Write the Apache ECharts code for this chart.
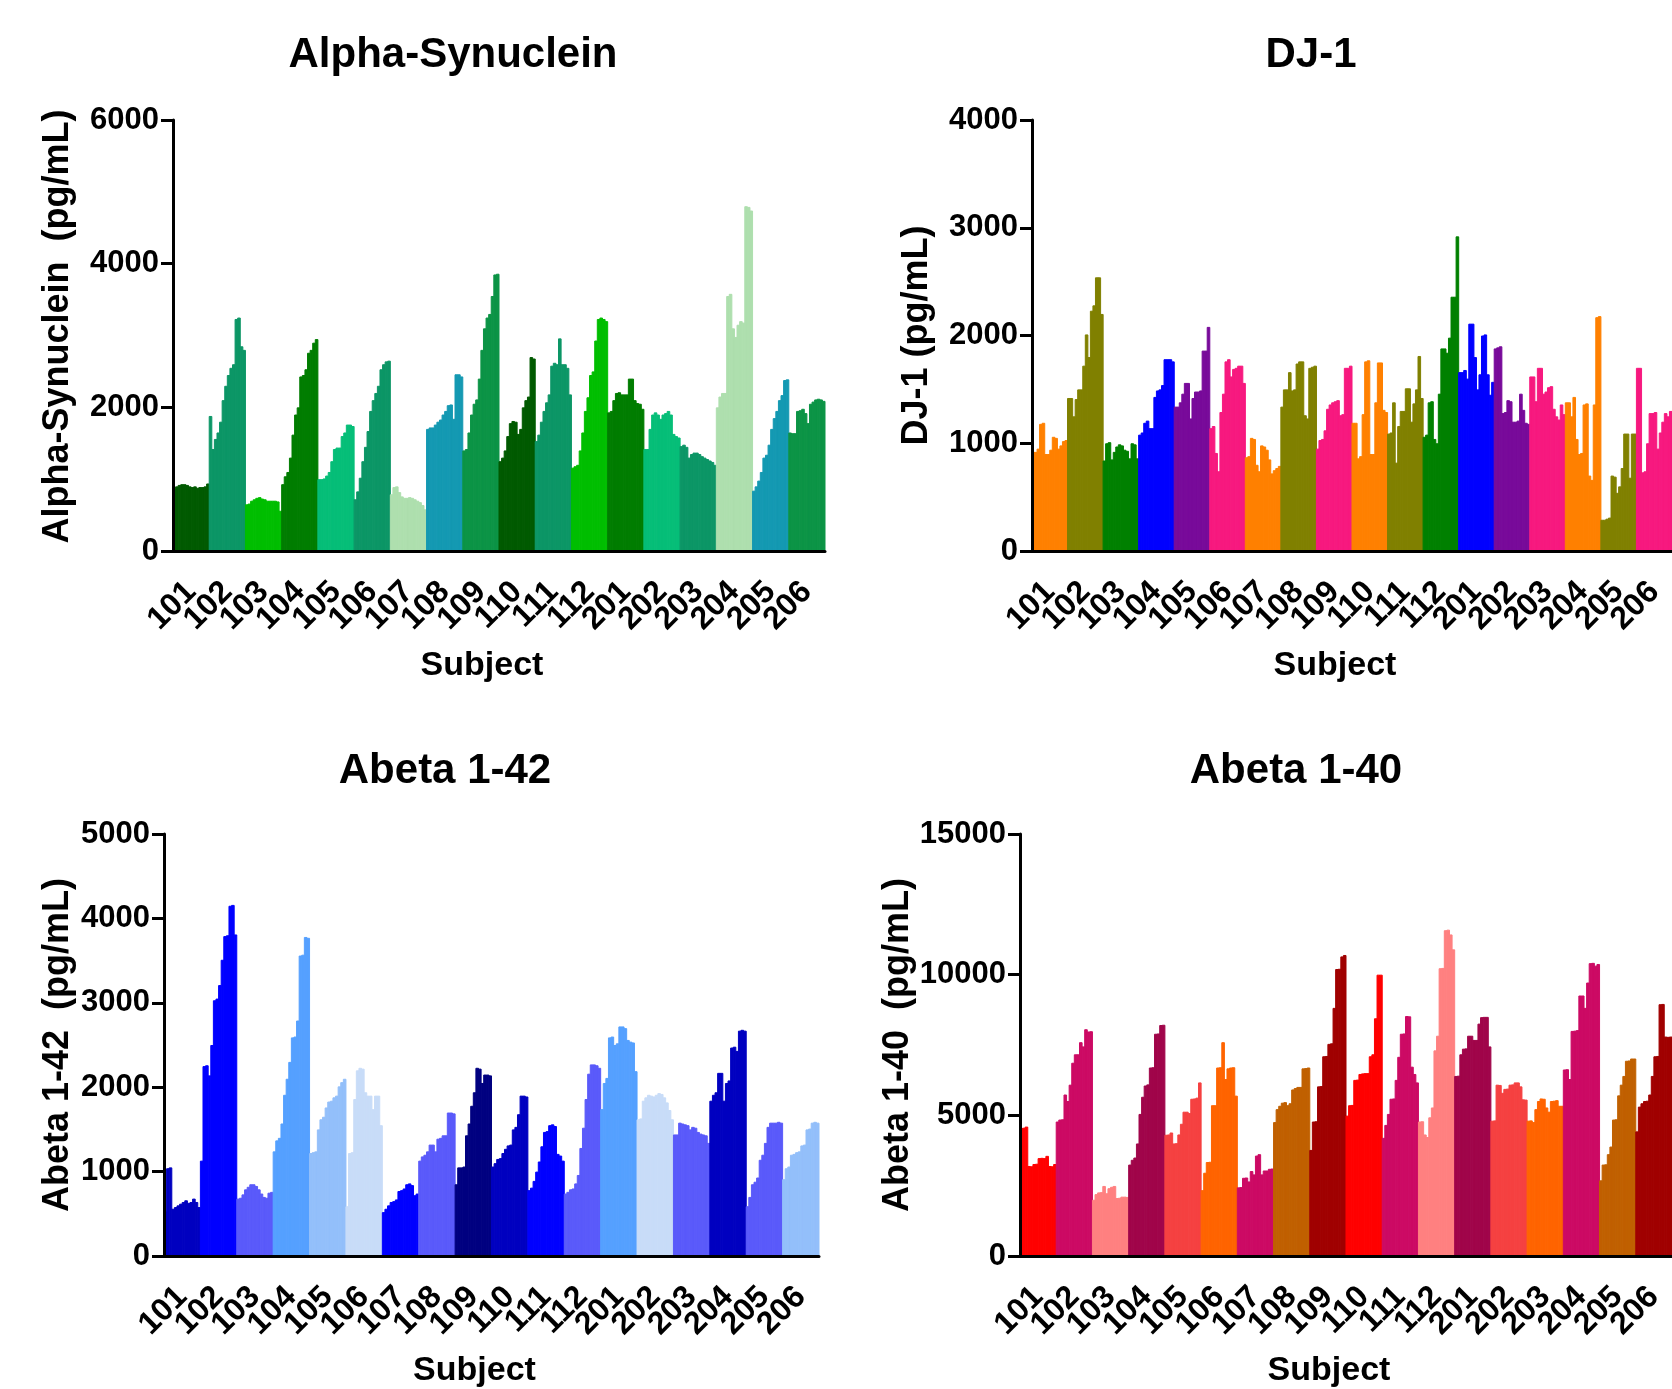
<!DOCTYPE html>
<html>
<head>
<meta charset="utf-8">
<script src="https://cdn.jsdelivr.net/npm/echarts@6/dist/echarts.min.js"></script>
<style>
  html, body { margin: 0; padding: 0; background: #fff; }
  #chart { width: 1672px; height: 1389px; }
</style>
</head>
<body>
<div id="chart"></div>
<script>
// subjects on the x axis, 14 readings per subject
const subjects = ['101', '102', '103', '104', '105', '106', '107', '108', '109', '110', '111', '112', '201', '202', '203', '204', '205', '206']

const alphaSynValues = [
  [870, 900, 920, 930, 930, 920, 900, 890, 900, 880, 890, 890, 900, 940],
  [1880, 1420, 1560, 1650, 1800, 2100, 2300, 2450, 2550, 2600, 3230, 3250, 2850, 2800],
  [650, 660, 700, 720, 740, 750, 730, 720, 700, 700, 700, 700, 690, 560],
  [930, 1040, 1100, 1300, 1620, 1900, 2000, 2430, 2450, 2530, 2760, 2800, 2900, 2950],
  [1000, 1000, 1010, 1050, 1100, 1250, 1420, 1440, 1440, 1600, 1650, 1760, 1760, 1740],
  [720, 830, 1020, 1250, 1450, 1670, 1950, 2100, 2200, 2300, 2530, 2600, 2640, 2650],
  [790, 890, 900, 820, 760, 740, 740, 750, 740, 720, 700, 680, 640, 580],
  [1700, 1720, 1720, 1760, 1800, 1830, 1900, 1950, 2030, 2040, 1840, 2460, 2460, 2430],
  [1400, 1420, 1650, 1900, 2050, 2110, 2400, 2800, 3100, 3250, 3300, 3550, 3850, 3860],
  [1250, 1300, 1400, 1600, 1780, 1810, 1800, 1630, 1700, 2000, 2100, 2150, 2700, 2680],
  [1530, 1620, 1800, 1950, 2070, 2180, 2580, 2620, 2600, 2960, 2600, 2600, 2550, 2180],
  [1160, 1180, 1200, 1400, 1650, 1950, 2140, 2450, 2500, 2930, 3230, 3250, 3230, 3200],
  [1930, 1950, 2100, 2200, 2210, 2180, 2180, 2180, 2400, 2400, 2100, 2060, 2050, 1980],
  [1420, 1420, 1700, 1900, 1930, 1900, 1840, 1900, 1920, 1950, 1900, 1630, 1600, 1580],
  [1460, 1480, 1450, 1300, 1350, 1370, 1370, 1350, 1320, 1300, 1280, 1260, 1240, 1200],
  [2000, 2150, 2200, 2200, 3550, 3580, 3100, 2980, 3150, 3200, 3180, 4800, 4790, 4740],
  [840, 900, 980, 1100, 1300, 1340, 1480, 1700, 1850, 1950, 2100, 2170, 2380, 2390],
  [1650, 1640, 1640, 1950, 1960, 1980, 1920, 1780, 2050, 2080, 2110, 2120, 2110, 2090]
]

const dj1Values = [
  [920, 920, 950, 1180, 1190, 900, 900, 940, 1060, 1050, 950, 980, 1020, 1030],
  [1420, 1420, 1250, 1410, 1500, 1500, 1720, 2010, 1800, 2230, 2280, 2540, 2540, 2200],
  [840, 1000, 1010, 850, 920, 970, 990, 980, 940, 930, 860, 1000, 990, 860],
  [1080, 1100, 1190, 1210, 1140, 1140, 1430, 1490, 1500, 1540, 1780, 1780, 1780, 1760],
  [1340, 1340, 1380, 1460, 1560, 1560, 1230, 1420, 1480, 1480, 1490, 1860, 1860, 2080],
  [1140, 1160, 910, 740, 1290, 1460, 1760, 1780, 1620, 1690, 1700, 1720, 1720, 1560],
  [870, 880, 1050, 1040, 800, 740, 980, 970, 940, 850, 720, 750, 770, 790],
  [1340, 1500, 1500, 1660, 1490, 1500, 1740, 1760, 1760, 1260, 1230, 1700, 1710, 1720],
  [950, 1030, 1040, 1120, 1320, 1360, 1380, 1390, 1400, 1260, 1270, 1700, 1700, 1720],
  [1190, 1190, 860, 880, 1270, 1760, 1770, 900, 900, 1380, 1750, 1750, 1310, 1290],
  [1090, 1100, 1380, 820, 1160, 1300, 1300, 1510, 1510, 1200, 1370, 1500, 1810, 1420],
  [1060, 1080, 1380, 1390, 1040, 1000, 1460, 1880, 1880, 1840, 1980, 2360, 2360, 2920],
  [1660, 1660, 1680, 1600, 2110, 2110, 1800, 1500, 1640, 2000, 2010, 1640, 1450, 1570],
  [1880, 1890, 1900, 1280, 1290, 1400, 1390, 1200, 1200, 1210, 1460, 1310, 1190, 1180],
  [1620, 1620, 1390, 1700, 1700, 1460, 1480, 1520, 1530, 1320, 1250, 1220, 1360, 1270],
  [1380, 1380, 1250, 1430, 1040, 900, 910, 1360, 1370, 700, 660, 1360, 2170, 2180],
  [290, 290, 300, 310, 700, 690, 540, 600, 770, 1090, 1090, 680, 1090, 1090],
  [1700, 1700, 730, 740, 1000, 1280, 1280, 1290, 950, 1100, 1200, 1280, 1250, 1300]
]

const abeta42Values = [
  [530, 1040, 1050, 560, 580, 600, 620, 640, 660, 630, 640, 680, 640, 580],
  [1130, 2250, 2260, 2140, 2500, 3030, 3050, 3210, 3510, 3790, 3800, 4150, 4160, 3810],
  [680, 690, 730, 790, 820, 850, 850, 830, 790, 740, 700, 690, 750, 760],
  [1240, 1370, 1400, 1570, 1910, 2100, 2300, 2590, 2600, 2790, 3560, 3570, 3780, 3770],
  [1220, 1230, 1240, 1500, 1620, 1650, 1760, 1830, 1840, 1880, 1900, 2010, 2060, 2100],
  [590, 1220, 1230, 1860, 2200, 2230, 2220, 1940, 1900, 1900, 1740, 1900, 1900, 1550],
  [520, 560, 600, 640, 650, 670, 770, 780, 800, 850, 860, 840, 720, 740],
  [1130, 1180, 1200, 1240, 1320, 1320, 1240, 1390, 1400, 1430, 1430, 1700, 1700, 1690],
  [850, 1050, 1050, 1060, 1430, 1570, 1780, 1940, 2230, 2220, 2050, 2150, 2150, 2140],
  [1060, 1100, 1150, 1160, 1220, 1270, 1310, 1320, 1500, 1530, 1680, 1900, 1900, 1890],
  [780, 810, 890, 1000, 1120, 1300, 1470, 1480, 1550, 1560, 1540, 1210, 1190, 1130],
  [740, 760, 790, 800, 860, 960, 1280, 1520, 1860, 2160, 2270, 2270, 2260, 2230],
  [1740, 2050, 2110, 2590, 2600, 2500, 2520, 2720, 2720, 2700, 2560, 2540, 2530, 2190],
  [1620, 1630, 1840, 1880, 1910, 1900, 1890, 1910, 1930, 1920, 1880, 1820, 1730, 1620],
  [1440, 1440, 1580, 1570, 1560, 1550, 1500, 1530, 1520, 1470, 1450, 1440, 1430, 1340],
  [1840, 1910, 1940, 2170, 2170, 1840, 2050, 2080, 2470, 2480, 2430, 2670, 2680, 2670],
  [590, 700, 850, 880, 930, 1140, 1200, 1340, 1530, 1580, 1580, 1580, 1590, 1580],
  [910, 1040, 1060, 1200, 1210, 1230, 1240, 1310, 1320, 1500, 1510, 1580, 1590, 1580]
]

const abeta40Values = [
  [4550, 4560, 4600, 3200, 3190, 3270, 3280, 3480, 3490, 3480, 3560, 3200, 3190, 3270],
  [4780, 4850, 4860, 5740, 5510, 6090, 6870, 7170, 7170, 7600, 7450, 8060, 7980, 7990],
  [2000, 2200, 2260, 2270, 2490, 2230, 2410, 2460, 2490, 2060, 2070, 2110, 2110, 2100],
  [3250, 3420, 3500, 4000, 5050, 5660, 6060, 6100, 6700, 6710, 7900, 7910, 8210, 8220],
  [4310, 4320, 4390, 4000, 4010, 4320, 4700, 5130, 5130, 5080, 5590, 5600, 5630, 6170],
  [2340, 2960, 3340, 3350, 5360, 5360, 6700, 6710, 7600, 6290, 6670, 6700, 6710, 5700],
  [2440, 2450, 2780, 2790, 2650, 3020, 2900, 3570, 3620, 2900, 3040, 3040, 3100, 3110],
  [4760, 5220, 5340, 5450, 5470, 5360, 5430, 5920, 5970, 6010, 6010, 6670, 6680, 6700],
  [3770, 4780, 4790, 6030, 6040, 7100, 7110, 7540, 7560, 8820, 10200, 10210, 10650, 10700],
  [4990, 5360, 5370, 6260, 6270, 6470, 6490, 6500, 6500, 7100, 7170, 8450, 10000, 10000],
  [4200, 4660, 5050, 5590, 5600, 6260, 7080, 7900, 7910, 8530, 8520, 6730, 6470, 6170],
  [4780, 4790, 4320, 4230, 4930, 5280, 7310, 7830, 10230, 10240, 11580, 11600, 11430, 10900],
  [6400, 6410, 7170, 7370, 7380, 7830, 7830, 7680, 7680, 8260, 8490, 8500, 8500, 7450],
  [4810, 4820, 6090, 6080, 5800, 5940, 5950, 6090, 6100, 6170, 6170, 6030, 5570, 5560],
  [4810, 4820, 4760, 5220, 5510, 5600, 5590, 5280, 5130, 5510, 5520, 5540, 5340, 5340],
  [6630, 6640, 6290, 8000, 8010, 8030, 9260, 9260, 8820, 9720, 10410, 10420, 10320, 10380],
  [2690, 3250, 3260, 3620, 3890, 4850, 4860, 5710, 6090, 6400, 6940, 6950, 7020, 7020],
  [4430, 5310, 5430, 5510, 5520, 5740, 6400, 7100, 7110, 8950, 8960, 7800, 7790, 7800]
]

// colour of each subject group
const alphaSynColors = ['#015a01', '#0c9666', '#00be00', '#007d00', '#06be78', '#0c9666', '#aedfae', '#1499b2', '#0c9446',
  '#015a01', '#0c9666', '#00be00', '#007d00', '#06be78', '#0c9666', '#aedfae', '#1499b2', '#0c9446']
const dj1Colors = ['#ff8000', '#808000', '#008000', '#0000ff', '#780a9a', '#f7197f', '#ff8000', '#808000', '#f7197f',
  '#ff8000', '#808000', '#008000', '#0000ff', '#780a9a', '#f7197f', '#ff8000', '#808000', '#f7197f']
const abeta42Colors = ['#0000c0', '#0000ff', '#5a5afa', '#55a0ff', '#93bffa', '#c8dcf8', '#0000ff', '#5a5afa', '#000080',
  '#0000c0', '#0000ff', '#5a5afa', '#55a0ff', '#c8dcf8', '#5a5afa', '#0000c0', '#5a5afa', '#93bffa']
const abeta40Colors = ['#ff0000', '#cc0a64', '#ff8080', '#a0054a', '#f54141', '#ff6400', '#cc0a64', '#c06000', '#a00000',
  '#ff0000', '#cc0a64', '#ff8080', '#a0054a', '#f54141', '#ff6400', '#cc0a64', '#c06000', '#a00000']

const FONT = 'Liberation Sans, Arial, sans-serif'

const panels = [
  { title: 'Alpha-Synuclein', yName: 'Alpha-Synuclein  (pg/mL)', values: alphaSynValues, colors: alphaSynColors,
    max: 6000, interval: 2000, left: 173, width: 652, top: 120, titleX: 448, titleY: 29, nameGap: 97, nameShift: 18 },
  { title: 'DJ-1', yName: 'DJ-1 (pg/mL)', values: dj1Values, colors: dj1Colors,
    max: 4000, interval: 1000, left: 1032, width: 653, top: 120, titleX: 1306, titleY: 29, nameGap: 97, nameShift: 0 },
  { title: 'Abeta 1-42', yName: 'Abeta 1-42  (pg/mL)', values: abeta42Values, colors: abeta42Colors,
    max: 5000, interval: 1000, left: 164, width: 655, top: 834, titleX: 440, titleY: 745, nameGap: 88, nameShift: 0 },
  { title: 'Abeta 1-40', yName: 'Abeta 1-40  (pg/mL)', values: abeta40Values, colors: abeta40Colors,
    max: 15000, interval: 5000, left: 1020, width: 658, top: 834, titleX: 1291, titleY: 745, nameGap: 91, nameShift: 0 }
]

const chart = echarts.init(document.getElementById('chart'))

const option = { animation: false, backgroundColor: '#fff', title: [], grid: [], xAxis: [], yAxis: [], series: [] }

panels.forEach((p, i) => {
  const barCats = []
  const barData = []
  p.values.forEach((group, g) => {
    group.forEach((v, k) => {
      barCats.push(subjects[g] + '-' + k)
      barData.push({ value: v, itemStyle: { color: p.colors[g], borderColor: p.colors[g], borderWidth: 1 } })
    })
  })

  option.title.push({
    text: p.title,
    left: p.titleX,
    top: p.titleY,
    textAlign: 'center',
    textStyle: { fontFamily: FONT, fontSize: 42, fontWeight: 'bold', color: '#000' }
  })
  option.grid.push({ left: p.left, top: p.top, width: p.width, height: 431 })

  // visible axis: one tick per subject
  option.xAxis.push({
    type: 'category',
    gridIndex: i,
    data: subjects,
    name: 'Subject',
    nameLocation: 'middle',
    nameGap: 98,
    nameTextStyle: { fontFamily: FONT, fontSize: 34, fontWeight: 'bold', color: '#000', padding: [0, 34, 0, 0] },
    axisLine: { lineStyle: { color: '#000', width: 3 } },
    axisTick: { alignWithLabel: true, length: 12, lineStyle: { color: '#000', width: 3 } },
    axisLabel: { interval: 0, rotate: 45, margin: 36, fontFamily: FONT, fontSize: 32, fontWeight: 'bold', color: '#000' },
    splitLine: { show: false },
    z: 5
  })
  // hidden axis carrying the individual bars
  option.xAxis.push({
    type: 'category',
    gridIndex: i,
    data: barCats,
    show: false
  })
  option.yAxis.push({
    type: 'value',
    gridIndex: i,
    min: 0,
    max: p.max,
    interval: p.interval,
    name: p.yName,
    nameLocation: 'middle',
    nameRotate: 90,
    nameGap: p.nameGap,
    nameTextStyle: { fontFamily: FONT, fontSize: 36, fontWeight: 'bold', color: '#000', padding: [0, 0, 0, p.nameShift] },
    axisLine: { show: true, lineStyle: { color: '#000', width: 3 } },
    axisTick: { show: true, length: 12, lineStyle: { color: '#000', width: 3 } },
    axisLabel: { margin: 14, fontFamily: FONT, fontSize: 31, fontWeight: 'bold', color: '#000', formatter: v => String(v) },
    splitLine: { show: false },
    z: 5
  })
  // bars slightly wider than their band so neighbours overlap and leave no seams
  option.series.push({
    type: 'bar',
    xAxisIndex: i * 2 + 1,
    yAxisIndex: i,
    barWidth: 3.6,
    data: barData
  })
})

chart.setOption(option)
</script>
</body>
</html>
